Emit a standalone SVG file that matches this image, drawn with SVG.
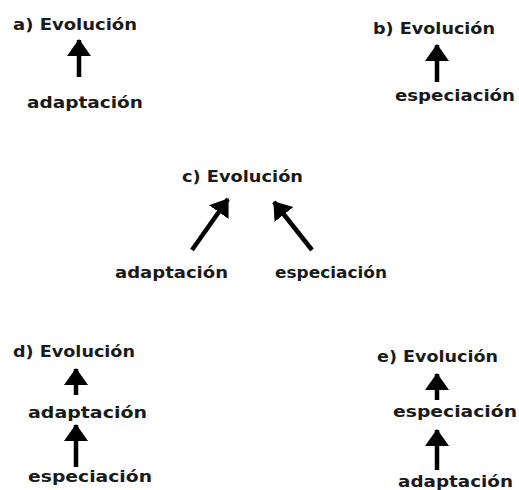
<svg xmlns="http://www.w3.org/2000/svg" width="519" height="490" viewBox="0 0 519 490">
<style>
text{font-family:"DejaVu Sans","Liberation Sans",sans-serif;font-weight:bold;font-size:16px;fill:#1a1a1a}
.ar{stroke:#000;stroke-width:4.5;fill:none;marker-end:url(#h)}
</style>
<defs>
<marker id="h" markerUnits="userSpaceOnUse" markerWidth="26" markerHeight="26" viewBox="0 0 26 26" refX="16" refY="13" orient="auto">
<path d="M0,1 L17,13 L0,25 Z" fill="#000"/>
</marker>
</defs>
<rect width="519" height="490" fill="#fff"/>
<g id="connectors">
<line class="ar" x1="79" y1="77" x2="79" y2="40"/>
<line class="ar" x1="437" y1="82" x2="437" y2="45"/>
<line class="ar" x1="192" y1="250" x2="228" y2="199"/>
<line class="ar" x1="312" y1="250" x2="274" y2="202"/>
<line class="ar" x1="76" y1="395" x2="76" y2="369"/>
<line class="ar" x1="76" y1="467" x2="76" y2="425"/>
<line class="ar" x1="437" y1="400" x2="437" y2="374"/>
<line class="ar" x1="437" y1="470" x2="437" y2="430"/>
</g>
<g id="a">
<text x="13" y="30" textLength="124" lengthAdjust="spacingAndGlyphs">a) Evolución</text>
<text x="27" y="108" textLength="116" lengthAdjust="spacingAndGlyphs">adaptación</text>
</g>
<g id="b">
<text x="373" y="34" textLength="122" lengthAdjust="spacingAndGlyphs">b) Evolución</text>
<text x="395" y="101" textLength="120" lengthAdjust="spacingAndGlyphs">especiación</text>
</g>
<g id="c">
<text x="182" y="182" textLength="121" lengthAdjust="spacingAndGlyphs">c) Evolución</text>
<text x="115" y="278" textLength="113" lengthAdjust="spacingAndGlyphs">adaptación</text>
<text x="275" y="278" textLength="112" lengthAdjust="spacingAndGlyphs">especiación</text>
</g>
<g id="d">
<text x="13" y="357" textLength="122" lengthAdjust="spacingAndGlyphs">d) Evolución</text>
<text x="28" y="418" textLength="119" lengthAdjust="spacingAndGlyphs">adaptación</text>
<text x="28" y="482" textLength="124" lengthAdjust="spacingAndGlyphs">especiación</text>
</g>
<g id="e">
<text x="377" y="362" textLength="121" lengthAdjust="spacingAndGlyphs">e) Evolución</text>
<text x="393" y="417" textLength="124" lengthAdjust="spacingAndGlyphs">especiación</text>
<text x="398" y="487" textLength="115" lengthAdjust="spacingAndGlyphs">adaptación</text>
</g>
</svg>
